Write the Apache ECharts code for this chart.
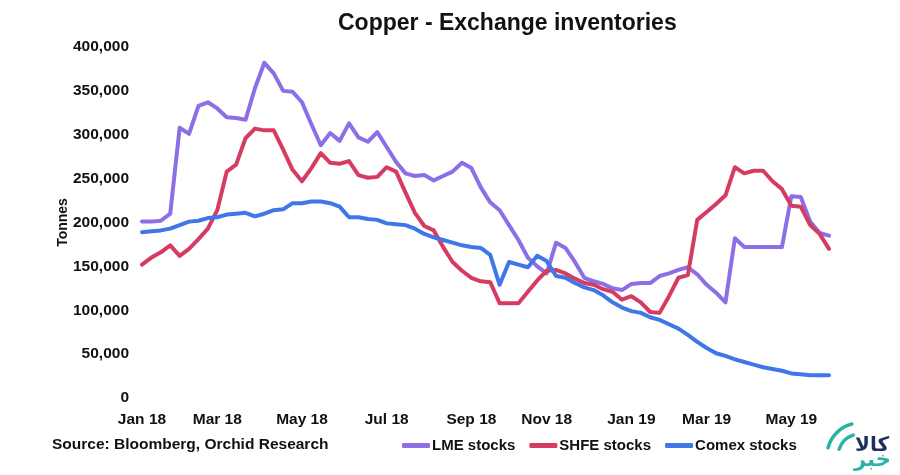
<!DOCTYPE html>
<html>
<head>
<meta charset="utf-8">
<script src="https://cdn.jsdelivr.net/npm/echarts@6/dist/echarts.min.js"></script>
<style>
  html, body { margin: 0; padding: 0; background: #fff; }
  #chart { width: 900px; height: 475px; }
</style>
</head>
<body>
<div id="chart"></div>
<script>
// weekly readings, Fridays
const weeks = [
  '2018-01-05', '2018-01-12', '2018-01-19', '2018-01-26', '2018-02-02', '2018-02-09', '2018-02-16', '2018-02-23',
  '2018-03-02', '2018-03-09', '2018-03-16', '2018-03-23', '2018-03-30', '2018-04-06', '2018-04-13', '2018-04-20',
  '2018-04-27', '2018-05-04', '2018-05-11', '2018-05-18', '2018-05-25', '2018-06-01', '2018-06-08', '2018-06-15',
  '2018-06-22', '2018-06-29', '2018-07-06', '2018-07-13', '2018-07-20', '2018-07-27', '2018-08-03', '2018-08-10',
  '2018-08-17', '2018-08-24', '2018-08-31', '2018-09-07', '2018-09-14', '2018-09-21', '2018-09-28', '2018-10-05',
  '2018-10-12', '2018-10-19', '2018-10-26', '2018-11-02', '2018-11-09', '2018-11-16', '2018-11-23', '2018-11-30',
  '2018-12-07', '2018-12-14', '2018-12-21', '2018-12-28', '2019-01-04', '2019-01-11', '2019-01-18', '2019-01-25',
  '2019-02-01', '2019-02-08', '2019-02-15', '2019-02-22', '2019-03-01', '2019-03-08', '2019-03-15', '2019-03-22',
  '2019-03-29', '2019-04-05', '2019-04-12', '2019-04-19', '2019-04-26', '2019-05-03', '2019-05-10', '2019-05-17',
  '2019-05-24', '2019-05-31'
];

const lmeStocks = [
  201000, 201000, 202000, 210000, 308000, 301000, 333000, 337000, 330000, 320000,
  319000, 317000, 353000, 382000, 370000, 350000, 349000, 337000, 312000, 288000,
  302000, 293000, 313000, 297000, 292000, 303000, 286000, 269000, 256000, 253000,
  254000, 248000, 253000, 258000, 268000, 262000, 240000, 223000, 214000, 197000,
  180000, 160000, 150000, 142000, 177000, 171000, 155000, 137000, 133000, 130000,
  125000, 123000, 130000, 131000, 131000, 139000, 142000, 146000, 149000, 141000,
  129000, 120000, 109000, 182000, 172000, 172000, 172000, 172000, 172000, 230000,
  229000, 201000, 188000, 185000
];

const shfeStocks = [
  152000, 160000, 166000, 174000, 162000, 170000, 181000, 193000, 214000, 258000,
  266000, 296000, 307000, 305000, 305000, 283000, 260000, 247000, 262000, 279000,
  268000, 267000, 270000, 254000, 251000, 252000, 263000, 258000, 234000, 211000,
  196000, 191000, 172000, 155000, 145000, 137000, 133000, 132000, 108000, 108000,
  108000, 121000, 134000, 145000, 146000, 142000, 136000, 131000, 129000, 124000,
  121000, 112000, 116000, 109000, 98000, 97000, 116000, 137000, 140000, 203000,
  212000, 221000, 231000, 263000, 256000, 259000, 259000, 247000, 238000, 219000,
  218000, 197000, 187000, 170000
];

const comexStocks = [
  189000, 190000, 191000, 193000, 197000, 201000, 202000, 205000, 206000, 209000,
  210000, 211000, 207000, 210000, 214000, 215000, 222000, 222000, 224000, 224000,
  222000, 218000, 206000, 206000, 204000, 203000, 199000, 198000, 197000, 193000,
  187000, 183000, 180000, 177000, 174000, 172000, 171000, 163000, 129000, 155000,
  152000, 149000, 162000, 156000, 139000, 137000, 131000, 126000, 123000, 117000,
  109000, 103000, 99000, 97000, 92000, 89000, 84000, 79000, 72000, 64000,
  57000, 51000, 48000, 44000, 41000, 38000, 35000, 33000, 31000, 28000,
  27000, 26000, 26000, 26000
];

const monthNames = ['Jan', 'Feb', 'Mar', 'Apr', 'May', 'Jun', 'Jul', 'Aug', 'Sep', 'Oct', 'Nov', 'Dec'];

const FONT = "'Liberation Sans', Arial, sans-serif";

// label only the first week of every second month (Jan, Mar, May ...)
function isLabelWeek(index, value) {
  const m = +value.slice(5, 7);
  const d = +value.slice(8, 10);
  return m % 2 === 1 && d <= 7;
}

const chart = echarts.init(document.getElementById('chart'), null, { renderer: 'canvas' });

chart.setOption({
  backgroundColor: '#fff',
  animation: false,
  title: {
    text: 'Copper - Exchange inventories',
    left: 333,
    top: 7,
    textStyle: { fontFamily: FONT, fontSize: 23, fontWeight: 'bold', color: '#111' }
  },
  grid: { left: 142, right: 71, top: 47, bottom: 77 },
  legend: {
    data: ['LME stocks', 'SHFE stocks', 'Comex stocks'],
    left: 397,
    top: 433,
    icon: 'roundRect',
    itemWidth: 28,
    itemHeight: 5,
    itemGap: 14,
    textStyle: { fontFamily: FONT, fontSize: 15, fontWeight: 'bold', color: '#111', padding: [0, 0, 0, -3] }
  },
  xAxis: {
    type: 'category',
    data: weeks,
    boundaryGap: false,
    axisLine: { show: false },
    axisTick: { show: false },
    splitLine: { show: false },
    axisLabel: {
      interval: isLabelWeek,
      margin: 14,
      fontFamily: FONT,
      fontSize: 15.5,
      fontWeight: 'bold',
      color: '#111',
      formatter: v => monthNames[+v.slice(5, 7) - 1] + ' ' + v.slice(2, 4)
    }
  },
  yAxis: {
    type: 'value',
    min: 0,
    max: 400000,
    interval: 50000,
    name: 'Tonnes',
    nameLocation: 'middle',
    nameRotate: 90,
    nameGap: 72,
    nameMoveOverlap: false,
    nameTextStyle: { fontFamily: FONT, fontSize: 14, fontWeight: 'bold', color: '#111' },
    axisLine: { show: false },
    axisTick: { show: false },
    splitLine: { show: false },
    axisLabel: {
      margin: 13,
      fontFamily: FONT,
      fontSize: 15.5,
      fontWeight: 'bold',
      color: '#111',
      formatter: v => v.toLocaleString('en-US')
    }
  },
  series: [
    {
      name: 'LME stocks', type: 'line', data: lmeStocks, symbol: 'none',
      lineStyle: { width: 4, color: '#8c6fe6', join: 'round', cap: 'round' },
      itemStyle: { color: '#8c6fe6' }
    },
    {
      name: 'SHFE stocks', type: 'line', data: shfeStocks, symbol: 'none',
      lineStyle: { width: 4, color: '#d63c62', join: 'round', cap: 'round' },
      itemStyle: { color: '#d63c62' }
    },
    {
      name: 'Comex stocks', type: 'line', data: comexStocks, symbol: 'none',
      lineStyle: { width: 4, color: '#3f76e8', join: 'round', cap: 'round' },
      itemStyle: { color: '#3f76e8' }
    }
  ],
  graphic: [
    {
      type: 'text', left: 52, top: 437,
      style: { text: 'Source: Bloomberg, Orchid Research', font: "bold 15.5px 'Liberation Sans', Arial, sans-serif", fill: '#111' }
    },
    // watermark logo
    {
      type: 'arc',
      shape: { cx: 860, cy: 456, r: 33, startAngle: Math.PI * 1.08, endAngle: Math.PI * 1.42 },
      style: { stroke: '#2ab3a3', lineWidth: 3.5, fill: null, lineCap: 'round' }
    },
    {
      type: 'arc',
      shape: { cx: 860, cy: 456, r: 22, startAngle: Math.PI * 1.1, endAngle: Math.PI * 1.4 },
      style: { stroke: '#2ab3a3', lineWidth: 3.5, fill: null, lineCap: 'round' }
    },
    {
      type: 'text', left: 855, top: 436,
      style: { text: 'کالا', font: "bold 20px 'DejaVu Sans', sans-serif", fill: '#1d2f5e' }
    },
    {
      type: 'text', left: 854, top: 450,
      style: { text: 'خبر', font: "bold 21px 'DejaVu Sans', sans-serif", fill: '#2ab3a3' }
    }
  ]
});
</script>
</body>
</html>
